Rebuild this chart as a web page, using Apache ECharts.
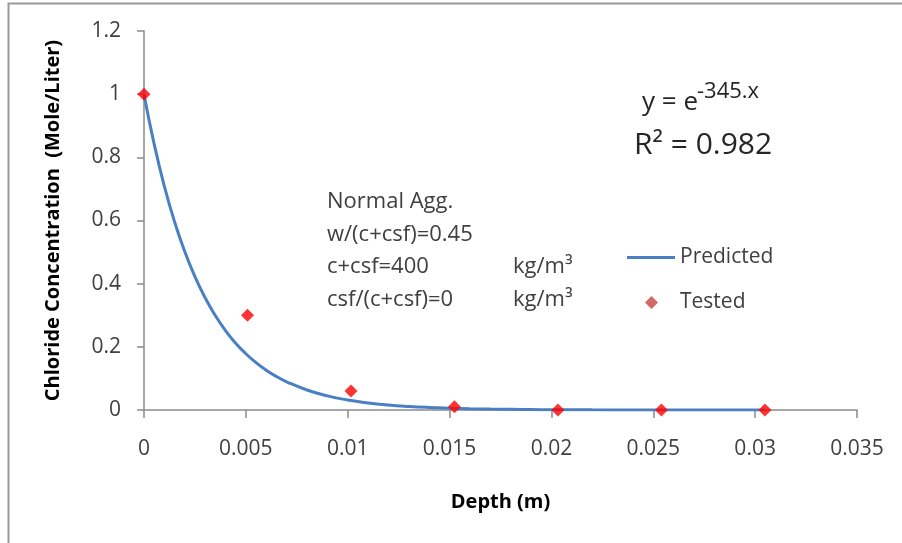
<!DOCTYPE html>
<html>
<head>
<meta charset="utf-8">
<script src="https://cdn.jsdelivr.net/npm/echarts@6/dist/echarts.min.js"></script>
<style>
  html, body { margin: 0; padding: 0; background: #fff; }
  #chart { width: 902px; height: 543px; }
</style>
</head>
<body>
<div id="chart"></div>
<script>
// Measured chloride concentration at each depth (m)
const testedDepth = [0, 0.00508, 0.01016, 0.01524, 0.02032, 0.0254, 0.03048];
const testedConc = [1.0, 0.30, 0.06, 0.01, 0.0, 0.0, 0.0];

// Fitted profile y = e^(-345 x), sampled along depth
const predictedDepth = [0, 0.0005, 0.001, 0.0015, 0.002, 0.0025, 0.003, 0.0035, 0.004, 0.0045,
  0.005, 0.0055, 0.006, 0.0065, 0.007, 0.008, 0.009,
  0.010, 0.011, 0.012, 0.013, 0.014, 0.015, 0.016, 0.017, 0.018, 0.019, 0.020,
  0.022, 0.024, 0.026, 0.028, 0.030, 0.03048];
const predictedConc = [1.0, 0.8416, 0.7082, 0.5960, 0.5016, 0.4222, 0.3552, 0.2990, 0.2516, 0.2117,
  0.1782, 0.1499, 0.1262, 0.1062, 0.0894, 0.0633, 0.0448,
  0.0317, 0.0225, 0.0159, 0.0113, 0.0080, 0.0057, 0.0040, 0.0028, 0.0020, 0.0014, 0.0010,
  0.0005, 0.00025, 0.00013, 0.00006, 0.00003, 0.00003];

const xTickLabels = ['0', '0.005', '0.01', '0.015', '0.02', '0.025', '0.03', '0.035'];
const yTickLabels = ['0', '0.2', '0.4', '0.6', '0.8', '1', '1.2'];

const FONT = '"Open Sans", Lato, sans-serif';
const TXT = '#404040';
const EQ = '#262626';

const chart = echarts.init(document.getElementById('chart'), null, { renderer: 'canvas' });

function note(text, x, y, size, color) {
  return {
    type: 'text', silent: true,
    style: { text: text, x: x, y: y, font: size + 'px ' + FONT, fill: color || TXT, verticalAlign: 'middle' }
  };
}

chart.setOption({
  animation: false,
  backgroundColor: '#ffffff',
  grid: { left: 144, right: 45, top: 31, bottom: 133 },
  xAxis: {
    type: 'value',
    min: 0, max: 0.035, interval: 0.005,
    name: 'Depth (m)',
    nameLocation: 'middle',
    nameGap: 92,
    nameTextStyle: { fontFamily: FONT, fontWeight: 'bold', fontSize: 20, color: '#000', verticalAlign: 'middle' },
    axisLine: { lineStyle: { color: '#8a8a8a', width: 1.5 } },
    axisTick: { show: true, inside: false, length: 8, lineStyle: { color: '#8a8a8a', width: 1.5 } },
    axisLabel: {
      fontFamily: FONT, fontSize: 21, color: TXT, margin: 29,
      formatter: (v) => xTickLabels[Math.round(v / 0.005)]
    },
    splitLine: { show: false }
  },
  yAxis: {
    type: 'value',
    min: 0, max: 1.2, interval: 0.2,
    name: 'Chloride Concentration  (Mole/Liter)',
    nameLocation: 'middle',
    nameGap: 91,
    nameRotate: 90,
    nameTextStyle: { fontFamily: FONT, fontWeight: 'bold', fontSize: 20, color: '#000', verticalAlign: 'middle' },
    axisLine: { show: true, lineStyle: { color: '#8a8a8a', width: 1.5 } },
    axisTick: { show: true, inside: false, length: 7, lineStyle: { color: '#8a8a8a', width: 1.5 } },
    axisLabel: {
      fontFamily: FONT, fontSize: 21, color: TXT, margin: 23,
      formatter: (v) => yTickLabels[Math.round(v / 0.2)]
    },
    splitLine: { show: false }
  },
  legend: [
    {
      data: [{ name: 'Predicted', icon: 'rect' }],
      left: 627, top: 247, padding: 0,
      itemWidth: 48, itemHeight: 3, itemGap: 0,
      textStyle: { fontFamily: FONT, fontSize: 21, color: TXT }
    },
    {
      data: [{ name: 'Tested', itemStyle: { color: '#c8433f' } }],
      left: 645, top: 292, padding: 0,
      itemWidth: 13, itemHeight: 13, itemGap: 0,
      formatter: '{s|}{t|{name}}',
      textStyle: {
        fontFamily: FONT, fontSize: 21, color: TXT,
        rich: { s: { width: 17 }, t: { fontFamily: FONT, fontSize: 21, color: TXT } }
      }
    }
  ],
  series: [
    {
      name: 'Predicted',
      type: 'line',
      data: predictedDepth.map((d, i) => [d, predictedConc[i]]),
      smooth: true,
      symbol: 'none',
      lineStyle: { color: '#4a7fc4', width: 3 },
      itemStyle: { color: '#4a7fc4' },
      z: 2
    },
    {
      name: 'Tested',
      type: 'scatter',
      data: testedDepth.map((d, i) => [d, testedConc[i]]),
      symbol: 'diamond',
      symbolSize: 13,
      itemStyle: { color: '#ff0000' },
      z: 3
    }
  ],
  graphic: [
    // chart frame (left and top edges)
    { type: 'polyline', silent: true, shape: { points: [[8.5, 543], [8.5, 3.5], [902, 3.5]] },
      style: { stroke: '#999999', lineWidth: 2, fill: null } },
    // mix description
    note('Normal Agg.', 327, 202, 22),
    note('w/(c+csf)=0.45', 327, 235, 22),
    note('c+csf=400', 327, 267, 22),
    note('kg/m³', 513, 267, 22),
    note('csf/(c+csf)=0', 327, 300, 22),
    note('kg/m³', 513, 300, 22),
    // trendline equation
    note('y = e', 642, 103, 26, EQ),
    note('-345.x', 697, 92, 22, EQ),
    note('R² = 0.982', 634, 145, 30, EQ)
  ]
});
</script>
</body>
</html>
